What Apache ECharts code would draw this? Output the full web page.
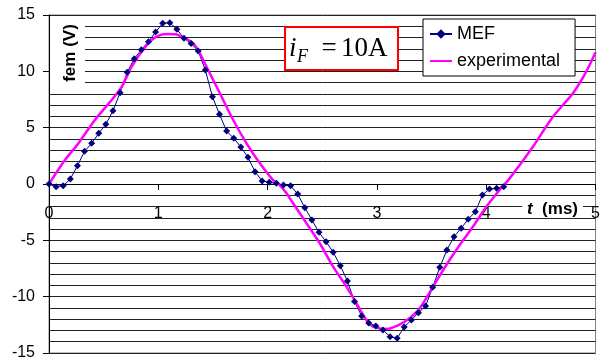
<!DOCTYPE html>
<html><head><meta charset="utf-8">
<script src="https://cdn.jsdelivr.net/npm/echarts@6/dist/echarts.min.js"></script>
<style>html,body{margin:0;padding:0;background:#fff}#c{width:603px;height:363px}</style>
</head><body><div id="c"></div>
<script>
// ---- data ----
const mefTime = [0,0.065,0.13,0.195,0.26,0.325,0.39,0.455,0.52,0.585,0.65,0.715,0.78,0.845,0.91,0.975,1.04,1.105,1.17,1.235,1.3,1.365,1.43,1.495,1.56,1.625,1.69,1.755,1.82,1.885,1.95,2.015,2.08,2.145,2.21,2.275,2.34,2.405,2.47,2.535,2.6,2.665,2.73,2.795,2.86,2.925,2.99,3.055,3.12,3.185,3.25,3.315,3.38,3.445,3.51,3.575,3.64,3.705,3.77,3.835,3.9,3.965,4.03,4.095,4.16];
const mefValues = [0,-0.24,-0.15,0.44,1.62,2.90,3.61,4.50,5.30,6.50,8.10,9.91,11.12,11.92,12.63,13.49,14.26,14.31,13.73,12.93,12.48,11.80,10.12,7.75,6.18,4.70,4.06,3.28,2.37,1.09,0.27,0.15,0.06,-0.09,-0.15,-0.89,-2.10,-3.19,-4.29,-5.12,-6.06,-7.25,-8.61,-10.44,-11.71,-12.33,-12.60,-12.95,-13.55,-13.69,-12.69,-12.07,-11.42,-10.83,-9.17,-7.39,-5.86,-4.68,-3.93,-3.13,-2.46,-0.98,-0.44,-0.38,-0.24];
const expTime = [0,0.146,0.268,0.42,0.573,0.665,0.756,0.847,0.939,1.015,1.09,1.182,1.319,1.38,1.441,1.563,1.685,1.807,1.929,2.05,2.111,2.173,2.233,2.356,2.477,2.599,2.721,2.813,2.904,2.964,3.087,3.202,3.3,3.391,3.513,3.635,3.757,3.878,4.001,4.122,4.214,4.427,4.61,4.793,4.915,5.0];
const expValues = [0,2.13,3.6,5.68,7.45,8.63,10.41,11.74,12.78,13.22,13.31,13.22,12.48,11.6,10.41,8.05,5.68,3.61,1.84,0.35,-0.09,-0.83,-1.71,-3.49,-5.26,-7.34,-9.11,-10.59,-12.07,-12.66,-12.87,-12.51,-11.9,-11.03,-9.11,-7.19,-5.41,-3.79,-2.01,-0.53,0.5,3.31,5.97,8.05,9.97,11.7];
const seriesNames = ['MEF', 'experimental'];
const xTickLabels = ['0','1','2','3','4','5'];
const yTickLabels = ['-15','-10','-5','0','5','10','15'];
const xAxisTitle = 't';
const xAxisUnit = '  (ms)';
const yAxisTitle = 'fem (V)';
const noteVar = 'i', noteSub = 'F', noteEq = '=', noteVal = '10A';

const pair = (ts, vs) => ts.map((t, i) => [t, vs[i]]);

const gridTop = 15, gridH = 338;
const chart = echarts.init(document.getElementById('c'), null, {renderer: 'canvas'});
chart.setOption({
  animation: false,
  backgroundColor: '#fff',
  grid: {left: 49, top: gridTop, width: 547, height: gridH, show: true, borderColor: '#808080', borderWidth: 1},
  xAxis: {
    type: 'value', min: 0, max: 5, interval: 1, position: 'bottom',
    offset: -gridH / 2,
    axisLine: {onZero: false, lineStyle: {color: '#000', width: 1}},
    axisTick: {show: true, length: 6, lineStyle: {color: '#000'}},
    axisLabel: {margin: 22, fontSize: 16, color: '#000', fontFamily: 'Liberation Sans, Arial',
      showMinLabel: true, showMaxLabel: true,
      formatter: v => xTickLabels[Math.round(v)]},
    splitLine: {show: false}
  },
  yAxis: {
    type: 'value', min: -15, max: 15, interval: 5,
    axisLine: {show: true, onZero: false, lineStyle: {color: '#000', width: 1}},
    axisTick: {show: true, length: 6, lineStyle: {color: '#000'}},
    axisLabel: {margin: 14, fontSize: 16, color: '#000', fontFamily: 'Liberation Sans, Arial',
      formatter: v => yTickLabels[Math.round((v + 15) / 5)]},
    splitLine: {show: true, lineStyle: {color: '#222', width: 1}},
    minorTick: {show: false, splitNumber: 5},
    minorSplitLine: {show: true, lineStyle: {color: '#222', width: 1}}
  },
  legend: {
    orient: 'vertical', left: 423, top: 19,
    padding: [5, 15, 5, 6], itemGap: 7, itemWidth: 22, itemHeight: 12,
    backgroundColor: '#fff', borderColor: '#000', borderWidth: 1, borderRadius: 0,
    textStyle: {fontSize: 18, color: '#000', fontFamily: 'Liberation Sans, Arial', lineHeight: 20},
    data: [
      {name: seriesNames[0]},
      {name: seriesNames[1], icon: 'path://M0,0L22,0L22,2L0,2Z'}
    ]
  },
  series: [
    {
      name: seriesNames[0], type: 'line', data: pair(mefTime, mefValues),
      symbol: 'diamond', symbolSize: 7, showSymbol: true,
      lineStyle: {color: '#000080', width: 1},
      itemStyle: {color: '#000080'}
    },
    {
      name: seriesNames[1], type: 'line', data: pair(expTime, expValues),
      symbol: 'none', smooth: 0.3,
      lineStyle: {color: '#FF00FF', width: 2.5},
      itemStyle: {color: '#FF00FF'}
    }
  ],
  graphic: [
    {type: 'rect', z: 100, shape: {x: 50, y: 20, width: 35, height: 68}, style: {fill: '#fff'}},
    {type: 'text', z: 101, x: 70, y: 53, rotation: Math.PI / 2,
      style: {text: yAxisTitle, font: 'bold 17px "Liberation Sans", Arial', fill: '#000', align: 'center', verticalAlign: 'middle'}},
    {type: 'rect', z: 100, shape: {x: 522, y: 199, width: 61, height: 18}, style: {fill: '#fff'}},
    {type: 'text', z: 101, x: 527, y: 209,
      style: {text: '{a|' + xAxisTitle + '}{b|' + xAxisUnit + '}', align: 'left', verticalAlign: 'middle',
        rich: {a: {font: 'bold italic 17px "Liberation Sans", Arial', fill: '#000'},
               b: {font: 'bold 17px "Liberation Sans", Arial', fill: '#000'}}}},
    {type: 'rect', z: 100, shape: {x: 285, y: 27, width: 113, height: 43}, style: {fill: '#fff', stroke: '#FF0000', lineWidth: 2}},
    {type: 'text', z: 101, x: 289, y: 48.5,
      style: {text: noteVar, font: 'italic 27px "Liberation Serif", "Times New Roman"', fill: '#000', align: 'left', verticalAlign: 'middle'}},
    {type: 'text', z: 101, x: 297, y: 57,
      style: {text: noteSub, font: 'italic 18px "Liberation Serif", "Times New Roman"', fill: '#000', align: 'left', verticalAlign: 'middle'}},
    {type: 'text', z: 101, x: 321.5, y: 48.5,
      style: {text: noteEq, font: '27px "Liberation Serif", "Times New Roman"', fill: '#000', align: 'left', verticalAlign: 'middle'}},
    {type: 'text', z: 101, x: 341, y: 48.5,
      style: {text: noteVal, font: '27px "Liberation Serif", "Times New Roman"', fill: '#000', align: 'left', verticalAlign: 'middle'}}
  ]
});
</script>
</body></html>
